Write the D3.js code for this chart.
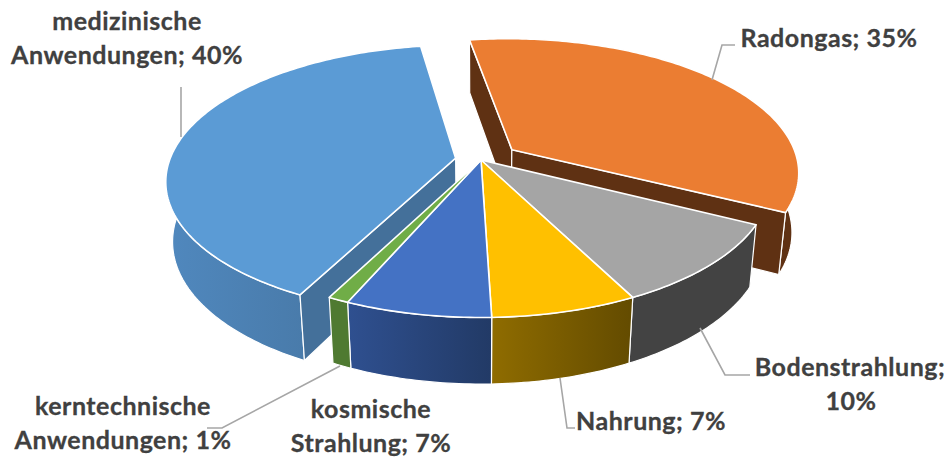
<!DOCTYPE html>
<html><head><meta charset="utf-8">
<script src="https://cdn.jsdelivr.net/npm/d3@7"></script>
<style>html,body{margin:0;padding:0;background:#fff}svg{display:block}text{font-family:Lato,"Open Sans",sans-serif;font-weight:700;font-size:25px;letter-spacing:.5px;fill:#404040;stroke:#404040;stroke-width:.3px;text-anchor:middle}</style>
</head><body><svg id="c" width="951" height="457"></svg>
<script>
const categories = ["Radongas","Bodenstrahlung","Nahrung","kosmische Strahlung","kerntechnische Anwendungen","medizinische Anwendungen"];
const values = [35,10,7,7,1,40];
const explode = [0.135,0,0,0,0,0.09];
const topColors = ["#EB7D32","#A5A5A5","#FFC000","#4472C4","#70AD47","#5B9BD5"];
const wallColors = ["#5F3113","#434343","#6E5300","#28426F","#4F7A31","#44709A"];
const sideLeft = ["#5F3113","#434343","#8F6C00","#2F5090","#4F7A31","#5088BE"];
const sideRight = ["#5F3113","#434343","#634B00","#223A66","#4F7A31","#43709A"];
const labelLines = [
 {t:"medizinische",x:127,y:30},{t:"Anwendungen; 40%",x:127,y:64},
 {t:"Radongas; 35%",x:829,y:47},
 {t:"Bodenstrahlung;",x:850,y:376},{t:"10%",x:851,y:410},
 {t:"Nahrung; 7%",x:651,y:430},
 {t:"kosmische",x:371,y:418},{t:"Strahlung; 7%",x:371,y:452},
 {t:"kerntechnische",x:123,y:415},{t:"Anwendungen; 1%",x:123,y:449}];
const leaders = [
 [[181,87],[181,137]],
 [[735,45],[722,45],[712,80]],
 [[750,375],[725,375],[700,328]],
 [[575,428],[567,428],[560,378]],
 [[207,428],[222,428],[340,366]]];

const startAngle = -9*Math.PI/180;
const cam = {cx:481,cy:160,A:286,B:132,C:60.6,p:0.162,q:0.0215};
function project(X,Y,Z){
  const s = 1/(1+cam.p*Y+cam.q*Z);
  return [cam.cx+cam.A*X*s, cam.cy-cam.B*Y*s+cam.C*Z*s];
}
const pie = d3.pie().sort(null).startAngle(startAngle).endAngle(startAngle+2*Math.PI);
const arcs = pie(values).map((d,i)=>({...d,i,e:explode[i]}));
const line = d3.line();
const svg = d3.select("#c");
const defs = svg.append("defs");

function pt(d,a,r,z){
  const mid=(d.startAngle+d.endAngle)/2;
  return project(d.e*Math.sin(mid)+r*Math.sin(a), d.e*Math.cos(mid)+r*Math.cos(a), z);
}
function rim(d,z){
  const n=Math.max(4,Math.ceil((d.endAngle-d.startAngle)*60));
  return d3.range(n+1).map(k=>{const a=d.startAngle+(d.endAngle-d.startAngle)*k/n;return pt(d,a,1,z);});
}
const order=[0,5,1,2,3,4];
order.forEach(i=>{
  const d=arcs[i];
  const g=svg.append("g");
  const top=rim(d,0), bot=rim(d,1);
  const xs=d3.extent(top.concat(bot),p=>p[0]);
  const lg=defs.append("linearGradient").attr("id","s"+i).attr("gradientUnits","userSpaceOnUse")
    .attr("x1",xs[0]).attr("x2",xs[1]).attr("y1",0).attr("y2",0);
  lg.append("stop").attr("offset",0).attr("stop-color",sideLeft[i]);
  lg.append("stop").attr("offset",1).attr("stop-color",sideRight[i]);
  const apex0=pt(d,0,0,0), apex1=pt(d,0,0,1);
  g.append("path").attr("d",line(top.concat(bot.slice().reverse()))+"Z").attr("fill",`url(#s${i})`).attr("stroke","#fff").attr("stroke-width",1.2).attr("stroke-linejoin","round");
  if(d.e>0){
    const farFirst = i===0 ? [0,1] : [1,0];
    farFirst.forEach(k=>{
      const end = k===0?0:top.length-1;
      g.append("path").attr("d",line([apex0,top[end],bot[end],apex1])+"Z").attr("fill",wallColors[i]).attr("stroke","#fff").attr("stroke-width",1.2).attr("stroke-linejoin","round");
    });
  }
  g.append("path").attr("d",line([apex0].concat(top))+"Z").attr("fill",topColors[i]).attr("stroke","#fff").attr("stroke-width",1.6).attr("stroke-linejoin","round");
});
svg.append("g").selectAll("path").data(leaders).join("path").attr("d",d=>line(d)).attr("fill","none").attr("stroke","#A6A6A6").attr("stroke-width",1.6);
svg.append("g").selectAll("text").data(labelLines).join("text").attr("x",d=>d.x).attr("y",d=>d.y).text(d=>d.t);
</script></body></html>
